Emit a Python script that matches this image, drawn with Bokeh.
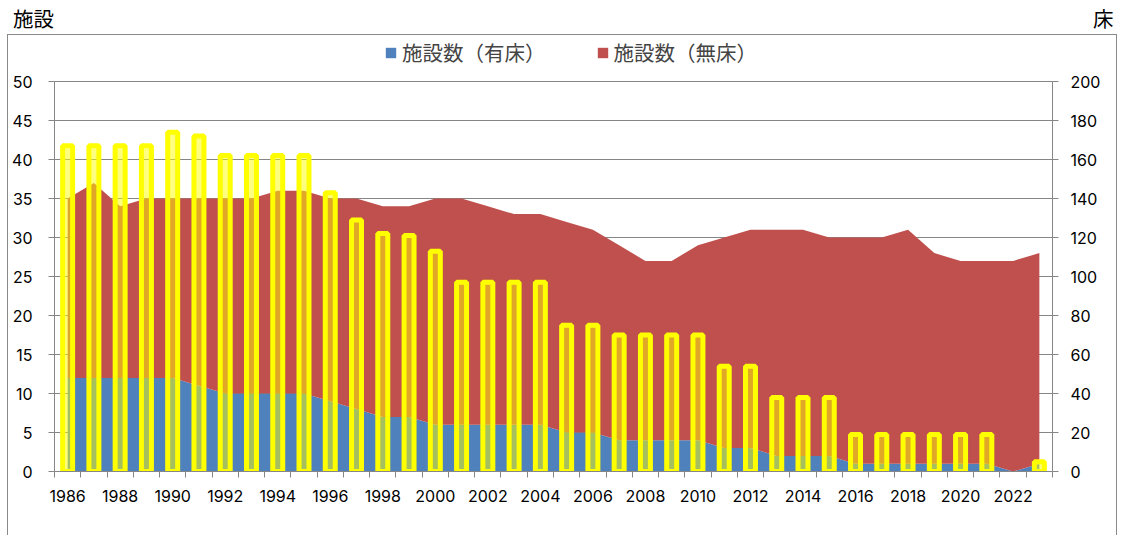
from bokeh.plotting import figure
from bokeh.models import (Range1d, LinearAxis, FixedTicker, Legend, LegendItem, Div,
                          ColumnDataSource, CDSView, BooleanFilter)
from bokeh.layouts import column
from bokeh.embed import file_html
from bokeh.resources import INLINE

# ---- data ----
years = [1986, 1987, 1988, 1989, 1990, 1991, 1992, 1993, 1994, 1995,
         1996, 1997, 1998, 1999, 2000, 2001, 2002, 2003, 2004, 2005,
         2006, 2007, 2008, 2009, 2010, 2011, 2012, 2013, 2014, 2015,
         2016, 2017, 2018, 2019, 2020, 2021, 2022, 2023]
# facilities with beds (有床)
yushou = [12, 12, 12, 12, 12, 11, 10, 10, 10, 10,
          9, 8, 7, 7, 6, 6, 6, 6, 6, 5,
          5, 4, 4, 4, 4, 3, 3, 2, 2, 2,
          1, 1, 1, 1, 1, 1, 0, 1]
# facilities without beds (無床)
mushou = [23, 25, 22, 23, 23, 24, 25, 25, 26, 26,
          26, 27, 27, 27, 29, 29, 28, 27, 27, 27,
          26, 25, 23, 23, 25, 27, 28, 29, 29, 28,
          29, 29, 30, 27, 26, 26, 27, 27]
# number of beds (床)
beds = [167, 167, 167, 167, 174, 172, 162, 162, 162, 162,
        143, 129, 122, 121, 113, 97, 97, 97, 97, 75,
        75, 70, 70, 70, 70, 54, 54, 38, 38, 38,
        19, 19, 19, 19, 19, 19, 0, 5]
x_labels = [1986, 1988, 1990, 1992, 1994, 1996, 1998, 2000, 2002, 2004,
            2006, 2008, 2010, 2012, 2014, 2016, 2018, 2020, 2022]
left_ticks = [0, 5, 10, 15, 20, 25, 30, 35, 40, 45, 50]
right_ticks = [0, 20, 40, 60, 80, 100, 120, 140, 160, 180, 200]
series_names = ["施設数（有床）", "施設数（無床）"]
left_title = "施設"
right_title = "床"

BLUE = "#4F81BD"
RED = "#C0504D"
YELLOW = "#FFFF00"
GRAY = "#868686"
BORDER = "#8a8a8a"
JP = "Noto Sans CJK JP"
NUM = "Inter"

# layout (pixels)
FIG_W, FIG_H = 1117, 500
B_LEFT, B_RIGHT, B_TOP, B_BOTTOM = 54, 65, 2, 63
FRAME_H = FIG_H - B_TOP - B_BOTTOM          # 435 px
AXIS_H = 390                                 # px covered by 0..50
head_room = FRAME_H / AXIS_H                 # frame extends above the top tick (legend room)

src = ColumnDataSource(dict(year=years, yu=yushou, mu=mushou, beds=beds))

p = figure(width=FIG_W, height=FIG_H,
           x_range=Range1d(years[0] - 0.5, years[-1] + 0.5),
           y_range=Range1d(left_ticks[0], left_ticks[-1] * head_room),
           output_backend="svg", toolbar_location=None,
           min_border_left=B_LEFT, min_border_right=B_RIGHT,
           min_border_top=B_TOP, min_border_bottom=B_BOTTOM)
p.outline_line_color = None
p.background_fill_color = "white"
p.border_fill_alpha = 0

p.extra_y_ranges = {"beds": Range1d(right_ticks[0], right_ticks[-1] * head_room)}

areas = p.varea_stack(["yu", "mu"], x="year", source=src, color=[BLUE, RED])

view = CDSView(filter=BooleanFilter([b > 0 for b in beds]))
p.vbar(x="year", top="beds", width=0.38, source=src, view=view, y_range_name="beds",
       fill_color=YELLOW, fill_alpha=0.5, line_color=YELLOW, line_width=5)

# axes
def style_axis(ax):
    ax.axis_line_color = GRAY
    ax.major_tick_line_color = GRAY
    ax.major_tick_in = 0
    ax.major_tick_out = 6
    ax.minor_tick_line_color = None
    ax.major_label_text_font = NUM
    ax.major_label_text_font_size = "16px"
    ax.major_label_text_color = "#000000"

yl = p.yaxis[0]
yl.ticker = FixedTicker(ticks=left_ticks)
yl.bounds = (left_ticks[0], left_ticks[-1])
style_axis(yl)
yl.major_label_standoff = 16

yr = LinearAxis(y_range_name="beds", ticker=FixedTicker(ticks=right_ticks),
                bounds=(right_ticks[0], right_ticks[-1]))
style_axis(yr)
yr.major_label_standoff = 12
p.add_layout(yr, "right")

xa = p.xaxis[0]
xa.ticker = FixedTicker(ticks=x_labels, minor_ticks=[y - 0.5 for y in years] + [years[-1] + 0.5])
style_axis(xa)
xa.major_tick_out = 0
xa.minor_tick_line_color = GRAY
xa.minor_tick_in = 0
xa.minor_tick_out = 6
xa.major_label_standoff = 12

p.xgrid.visible = False
p.ygrid.grid_line_color = GRAY
p.ygrid.grid_line_width = 1

legend = Legend(items=[LegendItem(label=series_names[0], renderers=[areas[0]]),
                       LegendItem(label=series_names[1], renderers=[areas[1]])],
                orientation="horizontal", location=(330, 404), spacing=50,
                glyph_width=13, glyph_height=13, label_standoff=5,
                label_text_font=JP, label_text_font_size="20.5px",
                border_line_color=None, background_fill_alpha=0,
                padding=0, margin=0)
p.add_layout(legend, "center")

# unit titles above the chart, and the chart's outer frame line
head = Div(width=FIG_W, height=34, margin=0,
           text=(f'<div style="position:relative;width:{FIG_W}px;height:34px;'
                 f'font-family:\'{JP}\';font-size:20.5px;line-height:20.5px;color:#000;">'
                 f'<span style="position:absolute;left:13px;top:8px;">{left_title}</span>'
                 f'<span style="position:absolute;left:1093px;top:8px;">{right_title}</span>'
                 f'<div style="position:absolute;left:7px;top:34px;width:1110px;height:501px;'
                 f'box-sizing:border-box;border:1px solid {BORDER};border-bottom:none;'
                 f'pointer-events:none;"></div>'
                 f'</div>'))

layout = column(head, p, spacing=0)

with open("out.html", "w", encoding="utf-8") as f:
    f.write(file_html(layout, INLINE))
